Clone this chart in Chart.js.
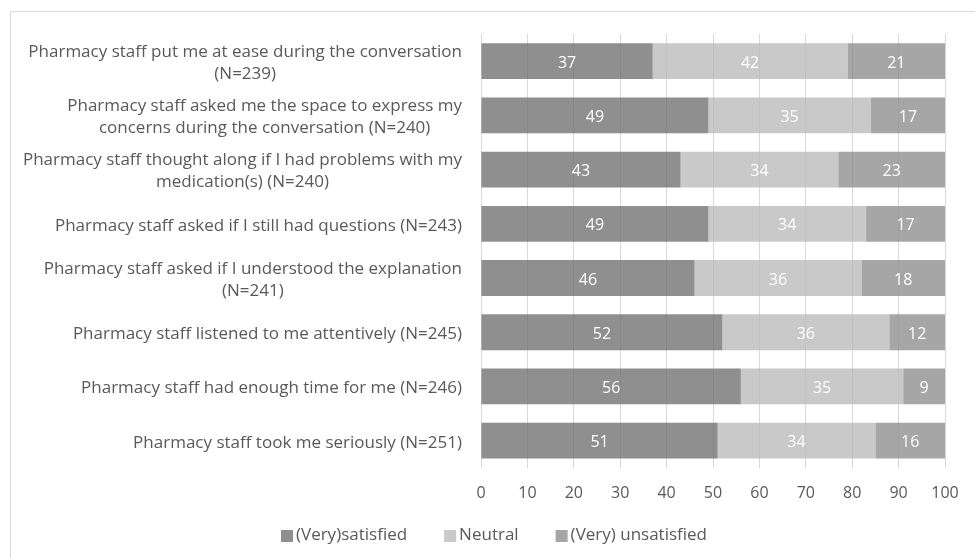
<!DOCTYPE html>
<html>
<head>
<meta charset="utf-8">
<script src="https://cdn.jsdelivr.net/npm/chart.js@4"></script>
<style>
  html, body { margin: 0; padding: 0; background: #fff; }
  #wrap { width: 975px; height: 558px; }
</style>
</head>
<body>
<div id="wrap"><canvas id="myChart" width="975" height="558"></canvas></div>
<script>
// statements, top to bottom
const categories = [
  ["Pharmacy staff put me at ease during the conversation", "(N=239)"],
  ["Pharmacy staff asked me the space to express my", "concerns during the conversation (N=240)"],
  ["Pharmacy staff thought along if I had problems with my", "medication(s) (N=240)"],
  ["Pharmacy staff asked if I still had questions (N=243)"],
  ["Pharmacy staff asked if I understood the explanation", "(N=241)"],
  ["Pharmacy staff listened to me attentively (N=245)"],
  ["Pharmacy staff had enough time for me (N=246)"],
  ["Pharmacy staff took me seriously (N=251)"],
];

// percentages per answer group
const satisfied = [37, 49, 43, 49, 46, 52, 56, 51];
const neutral = [42, 35, 34, 34, 36, 36, 35, 34];
const unsatisfied = [21, 17, 23, 17, 18, 12, 9, 16];

const xTicks = [0, 10, 20, 30, 40, 50, 60, 70, 80, 90, 100];

const fontName = "'Open Sans', sans-serif";
const textGrey = "#595959";

// outer frame of the chart
const framePlugin = {
  id: "frame",
  beforeDraw(chart) {
    const ctx = chart.ctx;
    ctx.save();
    ctx.fillStyle = "#fff";
    ctx.fillRect(0, 0, chart.width, chart.height);
    ctx.strokeStyle = "#d9d9d9";
    ctx.lineWidth = 1;
    ctx.strokeRect(10.5, 11.5, chart.width, chart.height);
    ctx.restore();
  },
};

// wrapped category labels: block right-aligned, lines centred in the block
const catLabels = {
  id: "catLabels",
  afterDraw(chart) {
    const ctx = chart.ctx;
    const y = chart.scales.y;
    const right = chart.chartArea.left - 19;
    ctx.save();
    ctx.font = "17px " + fontName;
    ctx.fillStyle = textGrey;
    ctx.textAlign = "center";
    ctx.textBaseline = "middle";
    categories.forEach((lines, i) => {
      const cy = y.getPixelForValue(i) + 2;
      const w = Math.max(...lines.map(l => ctx.measureText(l).width));
      const cx = right - w / 2;
      const lh = 22;
      const top = cy - (lines.length - 1) * lh / 2;
      lines.forEach((l, k) => ctx.fillText(l, cx, top + k * lh));
    });
    ctx.restore();
  },
};

// value labels inside each bar segment
const valueLabels = {
  id: "valueLabels",
  afterDatasetsDraw(chart) {
    const ctx = chart.ctx;
    const area = chart.chartArea;
    ctx.save();
    ctx.font = "16px " + fontName;
    ctx.fillStyle = "#fff";
    ctx.textAlign = "center";
    ctx.textBaseline = "middle";
    chart.data.datasets.forEach((ds, di) => {
      chart.getDatasetMeta(di).data.forEach((bar, i) => {
        const x0 = Math.max(bar.base, area.left);
        const x1 = Math.min(bar.x, area.right);
        ctx.fillText(String(ds.data[i]), (x0 + x1) / 2, bar.y + 2);
      });
    });
    ctx.restore();
  },
};

// legend row under the axis, square swatch + label per series
const legendRow = {
  id: "legendRow",
  afterDraw(chart) {
    const ctx = chart.ctx;
    const sets = chart.data.datasets;
    const box = 12, gapText = 3, gapItem = 37;
    const cy = 535, cx = 494;
    ctx.save();
    ctx.font = "17px " + fontName;
    ctx.textBaseline = "middle";
    ctx.textAlign = "left";
    const widths = sets.map(ds => ctx.measureText(ds.label).width);
    const total = widths.reduce((a, w) => a + box + gapText + w, 0) + gapItem * (sets.length - 1);
    let x = cx - total / 2;
    sets.forEach((ds, i) => {
      ctx.fillStyle = ds.backgroundColor;
      ctx.fillRect(x, cy - 5, box, box);
      ctx.fillStyle = textGrey;
      ctx.fillText(ds.label, x + box + gapText, cy);
      x += box + gapText + widths[i] + gapItem;
    });
    ctx.restore();
  },
};

new Chart(document.getElementById("myChart"), {
  type: "bar",
  data: {
    labels: categories.map(c => c.join(" ")),
    datasets: [
      { label: "(Very)satisfied", data: satisfied, backgroundColor: "rgba(113,113,113,0.79)" },
      { label: "Neutral", data: neutral, backgroundColor: "rgba(187,187,187,0.79)" },
      { label: "(Very) unsatisfied", data: unsatisfied, backgroundColor: "rgba(142,142,142,0.79)" },
    ],
  },
  options: {
    indexAxis: "y",
    responsive: false,
    animation: false,
    devicePixelRatio: 1,
    datasets: {
      bar: { categoryPercentage: 1, barPercentage: 0.66, borderWidth: 0 },
    },
    layout: { padding: { left: 43, right: 30, top: 34, bottom: 39 } },
    scales: {
      x: {
        stacked: true,
        min: 0,
        max: 100,
        afterBuildTicks(axis) {
          axis.ticks = xTicks.map(v => ({ value: v }));
        },
        grid: { color: "#d9d9d9", drawTicks: false },
        border: { display: false },
        ticks: {
          color: textGrey,
          padding: 16,
          font: { family: fontName, size: 16 },
        },
      },
      y: {
        stacked: true,
        grid: { display: false },
        border: { display: false },
        ticks: { display: false },
        afterFit(axis) {
          axis.width = 438;
        },
      },
    },
    plugins: {
      legend: { display: false },
      tooltip: { enabled: false },
    },
  },
  plugins: [framePlugin, catLabels, valueLabels, legendRow],
});
</script>
</body>
</html>
